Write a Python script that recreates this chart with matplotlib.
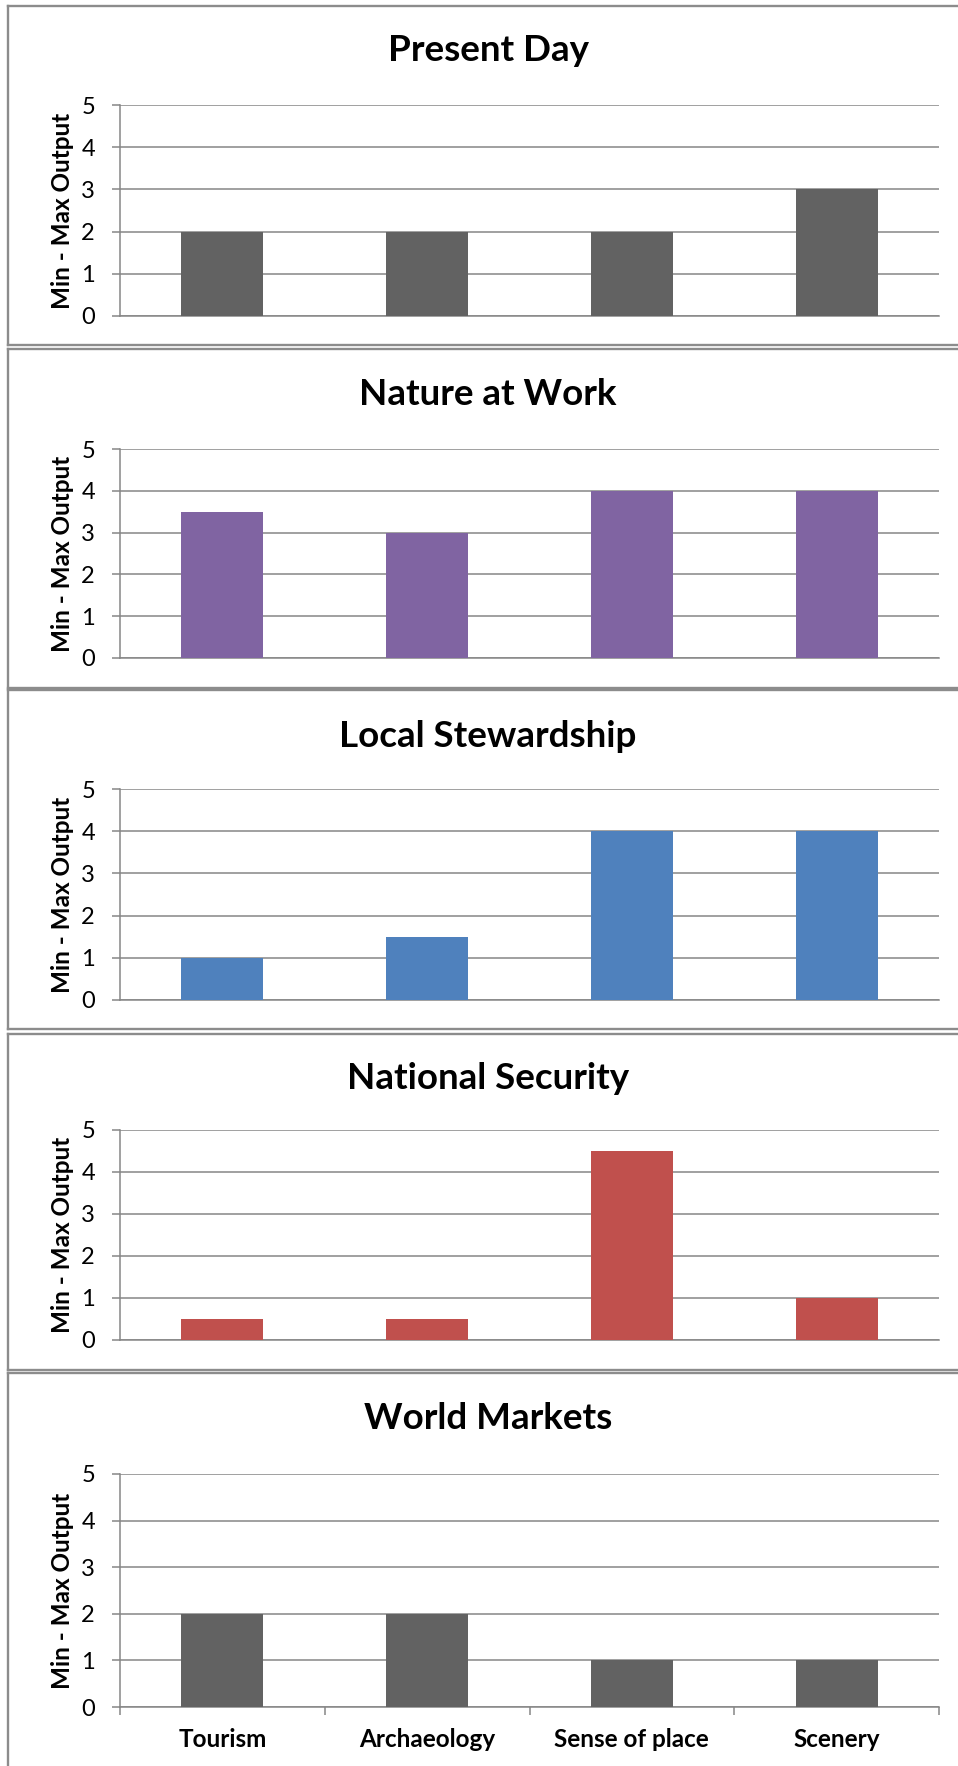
import matplotlib
matplotlib.use("Agg")
import matplotlib.pyplot as plt
from matplotlib.lines import Line2D

# Scenario scores per ecosystem service
categories = ["Tourism", "Archaeology", "Sense of place", "Scenery"]
scenario_titles = ["Present Day", "Nature at Work", "Local Stewardship",
                   "National Security", "World Markets"]
present_day = [2, 2, 2, 3]
nature_at_work = [3.5, 3, 4, 4]
local_stewardship = [1, 1.5, 4, 4]
national_security = [0.5, 0.5, 4.5, 1]
world_markets = [2, 2, 1, 1]
y_ticks = [0, 1, 2, 3, 4, 5]

series = [present_day, nature_at_work, local_stewardship,
          national_security, world_markets]
colors = ["#626262", "#8064A2", "#4F81BD", "#C0504D", "#626262"]

W, H = 958, 1766
DPI = 100
FONT = "Lato"
GRID = "#868686"
BORDER = "#8c8c8c"

fig = plt.figure(figsize=(W / DPI, H / DPI), dpi=DPI)
fig.patch.set_facecolor("white")


def fx(x):
    return x / W


def fy(y):
    return 1 - y / H


# panel frames (top, bottom) in pixel rows; last panel runs off the page
panels = [(6, 345), (349, 688), (690, 1029), (1034, 1370), (1373, None)]
# plot areas (top, bottom) in pixel rows
plot_rows = [(105, 316), (449, 658), (789, 1000), (1130, 1340), (1474, 1707)]
title_base = [61, 405, 747, 1089, 1429]
ax_left, ax_right = 120, 939

for top, bottom in panels:
    fig.add_artist(Line2D([fx(8), fx(8)],
                          [fy(top), fy(bottom if bottom else H + 5)],
                          color=BORDER, lw=1.7, transform=fig.transFigure))
    fig.add_artist(Line2D([fx(8), fx(W + 5)], [fy(top), fy(top)],
                          color=BORDER, lw=1.7, transform=fig.transFigure))
    if bottom:
        fig.add_artist(Line2D([fx(8), fx(W + 5)], [fy(bottom), fy(bottom)],
                              color=BORDER, lw=1.7, transform=fig.transFigure))

xs = list(range(len(categories)))
for i, (vals, col, title) in enumerate(zip(series, colors, scenario_titles)):
    t, b = plot_rows[i]
    ax = fig.add_axes([fx(ax_left), fy(b), fx(ax_right) - fx(ax_left),
                       fy(t) - fy(b)])
    ax.bar(xs, vals, width=0.4, color=col, zorder=3)
    ax.set_xlim(-0.5, len(categories) - 0.5)
    ax.set_ylim(0, 5)
    ax.set_yticks(y_ticks)
    ax.set_yticklabels([str(v) for v in y_ticks], fontfamily=FONT,
                       fontsize=17)
    ax.grid(axis="y", color=GRID, lw=1.1, zorder=0)
    ax.set_axisbelow(True)
    for s in ("top", "right"):
        ax.spines[s].set_visible(False)
    for s in ("left", "bottom"):
        ax.spines[s].set_color(GRID)
        ax.spines[s].set_linewidth(1.1)
    ax.tick_params(axis="y", length=6, width=1.1, color=GRID, pad=12)
    if i == len(series) - 1:
        ax.set_xticks([x - 0.5 for x in xs] + [len(categories) - 0.5])
        ax.set_xticklabels([])
        ax.set_xticks(xs, minor=True)
        ax.set_xticklabels(categories, minor=True, fontfamily=FONT,
                           fontweight="bold", fontsize=17.5)
        ax.tick_params(axis="x", which="major", length=6, width=1.1,
                       color=GRID)
        ax.tick_params(axis="x", which="minor", length=0, pad=15)
    else:
        ax.set_xticks([])
    ax.set_ylabel("Min - Max Output", fontfamily=FONT, fontweight="bold",
                  fontsize=17.5)
    ax.yaxis.labelpad = 5
    fig.text(fx(488), fy(title_base[i]), title, ha="center", va="baseline",
             fontfamily=FONT, fontweight="bold", fontsize=26.5)

fig.savefig("out.png", dpi=DPI, facecolor="white")
